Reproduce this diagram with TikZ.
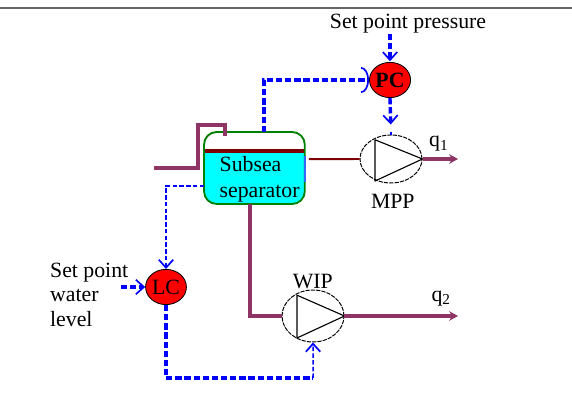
\documentclass[tikz,border=0pt]{standalone}
\usepackage{fontspec}
\setmainfont{Liberation Serif}
\usetikzlibrary{arrows.meta,shapes.geometric}
\definecolor{diagramPipe}{HTML}{8F3566}
\definecolor{diagramBar}{HTML}{7F0000}
\definecolor{diagramSignal}{HTML}{0000FF}
\definecolor{diagramSight}{HTML}{3366FF}
\definecolor{diagramVessel}{HTML}{008000}
\definecolor{diagramLiquid}{HTML}{00FFFF}
\definecolor{diagramCtrl}{HTML}{FF0000}
\definecolor{diagramRule}{HTML}{666666}

\begin{document}
\begin{tikzpicture}[
    x=1cm,y=1cm,
    every node/.style={font=\fontsize{15.5}{17.5}\selectfont,inner sep=0pt},
    ctrl/.style={ellipse,draw=black,line width=0.6pt,fill=diagramCtrl,minimum width=1.02cm,minimum height=0.88cm},
    pump/.style={ellipse,draw=black,line width=0.7pt,dash pattern=on 3pt off 0.8pt,minimum width=1.55cm,minimum height=1.2cm},
    impeller/.style={draw=black,line width=0.8pt,line join=round},
    vessel/.style={draw=diagramVessel,line width=1.3pt,rounded corners=9pt,minimum width=2.52cm,minimum height=1.8cm},
    pipe/.style={draw=diagramPipe,line width=2.7pt},
    gas/.style={draw=diagramBar,line width=1.4pt},
    product/.style={pipe,-{Stealth[length=2.2mm,width=2.4mm]}},
    signal/.style={draw=diagramSignal,line width=2.4pt,dash pattern=on 4.5pt off 2pt,-{Straight Barb[length=2mm,width=3.6mm,line width=1.2pt]}},
    signalThin/.style={draw=diagramSignal,line width=1.1pt,dash pattern=on 3.2pt off 1.6pt,-{Straight Barb[length=2mm,width=3.6mm,line width=1.2pt]}}
]
\useasboundingbox (0,0) rectangle (14.3,10.4);
\coordinate (ruleL) at (0,10.2);
\coordinate (ruleR) at (14.3,10.2);
\draw[diagramRule,line width=0.8pt] (ruleL) -- (ruleR);
% separator
\node[vessel,path picture={
    \fill[diagramLiquid,sharp corners] (path picture bounding box.west) ++(0,0.42) rectangle (path picture bounding box.south east);
    \fill[diagramBar,sharp corners] (path picture bounding box.west) ++(0,0.37) rectangle ++(2.6,0.11);
}] (sep) at (6.36,6.2) {};
\node[align=left,font=\fontsize{15.5}{19}\selectfont] (sepText) at (6.49,5.92) {Subsea\\separator};
\node[ctrl] (pc) at (9.75,8.4) {\textbf{PC}};
\node[ctrl] (lc) at (4.15,3.225) {LC};
\node[pump] (mpp) at (9.775,6.425) {};
\node[pump,minimum height=1.3cm] (wip) at (7.825,2.5) {};
\draw[impeller] ([xshift=-0.4cm,yshift=0.48cm]mpp.center) -- ([xshift=-0.4cm,yshift=-0.55cm]mpp.center) -- (mpp.east) -- cycle;
\draw[impeller] ([xshift=-0.4cm,yshift=0.52cm]wip.center) -- ([xshift=-0.4cm,yshift=-0.55cm]wip.center) -- (wip.east) -- cycle;
\node (spPressure) at (10.2,9.8) {Set point pressure};
\node[align=left] (spWater) at (2.23,3.03) {Set point\\water\\level};
\node (mppText) at (9.82,5.37) {MPP};
\node (wipText) at (7.82,3.37) {WIP};
\node (qOne) at (10.97,6.8) {q\textsubscript{1}};
\node (qTwo) at (11.03,2.93) {q\textsubscript{2}};
% free ends
\coordinate (feed) at (3.85,6.2);
\coordinate (feedUp) at (4.95,6.2);
\coordinate (feedTop) at (4.95,7.28);
\coordinate (sepInlet) at (5.63,7.0);
\coordinate (gasOut) at (7.72,6.42);
\coordinate (sepOut) at (6.25,5.3);
\coordinate (oneEnd) at (11.45,6.425);
\coordinate (twoEnd) at (11.45,2.5);
\coordinate (sepTop) at (6.6,7.1);
\coordinate (spIn) at (9.75,9.55);
\coordinate (lvlOut) at (5.1,5.75);
\coordinate (spLc) at (3.02,3.225);
\coordinate (mppTick) at (9.775,7.1);
\coordinate (wipIn) at (7.83,0.95);
\coordinate (sightTop) at (7.63,6.5);
\coordinate (sightEnd) at (7.63,5.85);
% pipes
\draw[pipe] (feed) -- (feedUp) -- (feedTop) -| (sepInlet);
\draw[pipe] (sepOut) |- (wip.west);
\draw[gas] (gasOut) -- (mpp.west);
\draw[product] (mpp.east) -- (oneEnd);
\draw[product] (wip.east) -- (twoEnd);
\draw[diagramSight,line width=1.2pt] (sightTop) -- (sightEnd);
% signals
\draw[signal,-{Arc Barb[length=2mm,width=6.5mm,line width=1.2pt]}] (sepTop) |- (pc.west);
\draw[signal,shorten >=0.5pt] (spIn) -- (pc.north);
\draw[signal,shorten >=0.25cm] (pc.south) -- (mpp.north);
\draw[diagramSignal,line width=2.1pt] (mppTick) -- (mpp.north);
\draw[signalThin] (lvlOut) -| (lc.north);
\draw[signal] (spLc) -- (lc.west);
\draw[signal,-] (lc.south) |- (wipIn);
\draw[signalThin] (wipIn) -- (wip.south);
\end{tikzpicture}
\end{document}
